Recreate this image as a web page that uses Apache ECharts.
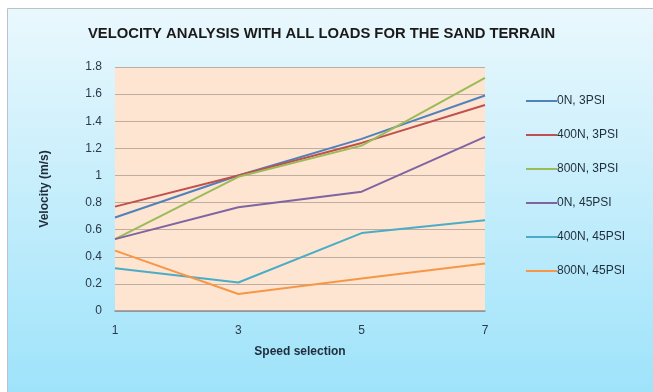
<!DOCTYPE html>
<html>
<head>
<meta charset="utf-8">
<script src="https://cdn.jsdelivr.net/npm/echarts@6/dist/echarts.min.js"></script>
<style>
  html, body { margin: 0; padding: 0; background: #ffffff; }
  #chart { width: 653px; height: 392px; }
</style>
</head>
<body>
<div id="chart"></div>
<script>
// Speed selections on the x axis
const speeds = ['1', '3', '5', '7'];

// Velocity (m/s) per load / tyre pressure combination
const n0_3psi    = [0.69, 1.00, 1.27, 1.59];
const n400_3psi  = [0.77, 1.00, 1.24, 1.52];
const n800_3psi  = [0.53, 0.99, 1.22, 1.72];
const n0_45psi   = [0.53, 0.765, 0.88, 1.285];
const n400_45psi = [0.315, 0.21, 0.575, 0.67];
const n800_45psi = [0.445, 0.125, 0.24, 0.35];

const seriesNames = ['0N, 3PSI', '400N, 3PSI', '800N, 3PSI', '0N, 45PSI', '400N, 45PSI', '800N, 45PSI'];
const seriesData = [n0_3psi, n400_3psi, n800_3psi, n0_45psi, n400_45psi, n800_45psi];
const seriesColors = ['#4F81BD', '#C0504D', '#9BBB59', '#8064A2', '#4BACC6', '#F79646'];

const FONT = '"Liberation Sans Narrow", "Liberation Sans", "Noto Sans", sans-serif';

const chart = echarts.init(document.getElementById('chart'), null, { renderer: 'canvas' });

chart.setOption({
  animation: false,
  textStyle: { fontFamily: FONT },
  graphic: [{
    type: 'rect',
    z: -10,
    shape: { x: 7.5, y: 8.5, width: 660, height: 400 },
    style: {
      fill: new echarts.graphic.LinearGradient(0, 0, 0, 1, [
        { offset: 0, color: '#eaf8fd' },
        { offset: 1, color: '#9be2fa' }
      ]),
      stroke: '#b8c2c8',
      lineWidth: 1
    },
    silent: true
  }],
  title: {
    text: 'VELOCITY ANALYSIS WITH ALL LOADS FOR THE SAND TERRAIN',
    left: 83,
    top: 21,
    textStyle: { fontFamily: FONT, fontSize: 14.8, fontWeight: 'bold', color: '#1a1a1a' }
  },
  legend: {
    orient: 'vertical',
    left: 521,
    top: 90,
    itemGap: 22,
    itemWidth: 31,
    itemHeight: 12,
    itemStyle: { borderWidth: 0 },
    data: seriesNames.map(name => ({
      name: name,
      icon: 'path://M0,0 L31,0 L31,2 L0,2 Z'
    })),
    textStyle: { fontFamily: FONT, fontSize: 12, color: '#1f2d3a', padding: [0, 0, 0, -5] }
  },
  grid: {
    left: 115,
    right: 168,
    top: 67,
    bottom: 81,
    show: true,
    backgroundColor: '#fde5d1',
    borderWidth: 0,
    containLabel: false
  },
  xAxis: {
    type: 'category',
    data: speeds,
    boundaryGap: false,
    name: 'Speed selection',
    nameLocation: 'middle',
    nameGap: 35,
    nameTextStyle: { fontFamily: FONT, fontSize: 12, fontWeight: 'bold', color: '#1f2d3a' },
    axisLine: { lineStyle: { color: '#8a8f94', width: 1.5 } },
    axisTick: { show: false },
    axisLabel: { fontFamily: FONT, fontSize: 12, color: '#2a3a4a', margin: 14 },
    splitLine: { show: false }
  },
  yAxis: {
    type: 'value',
    min: 0,
    max: 1.8,
    interval: 0.2,
    name: 'Velocity (m/s)',
    nameLocation: 'middle',
    nameGap: 64,
    nameTextStyle: { fontFamily: FONT, fontSize: 12, fontWeight: 'bold', color: '#1f2d3a' },
    axisLine: { show: false },
    axisTick: { show: false },
    axisLabel: {
      fontFamily: FONT, fontSize: 12, color: '#2a3a4a', margin: 13,
      formatter: v => String(Math.round(v * 10) / 10)
    },
    splitLine: { lineStyle: { color: '#bfae9f', width: 1 } }
  },
  series: seriesNames.map((name, i) => ({
    name: name,
    type: 'line',
    data: seriesData[i],
    symbol: 'none',
    showSymbol: false,
    lineStyle: { color: seriesColors[i], width: 2 },
    itemStyle: { color: seriesColors[i] }
  }))
});
</script>
</body>
</html>
